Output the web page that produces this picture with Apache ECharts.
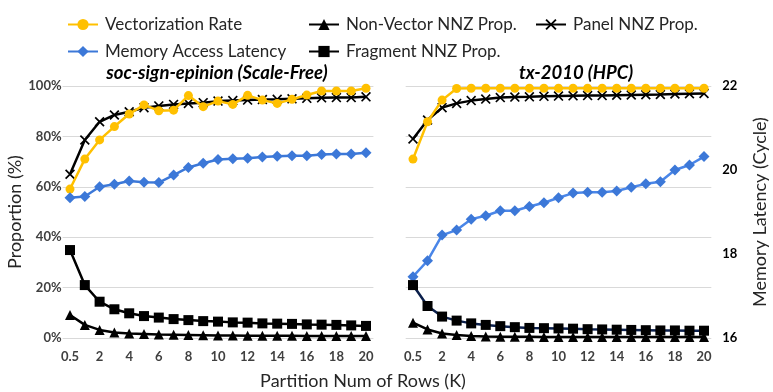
<!DOCTYPE html>
<html>
<head>
<meta charset="utf-8">
<script src="https://cdn.jsdelivr.net/npm/echarts@6/dist/echarts.min.js"></script>
<style>
html,body{margin:0;padding:0;background:#fff;}
#c{width:773px;height:392px;}
</style>
</head>
<body>
<div id="c"></div>
<script>
// ---- data ----
const categories = ['0.5','1','2','3','4','5','6','7','8','9','10','11','12','13','14','15','16','17','18','19','20'];
const panelTitles = ['soc-sign-epinion (Scale-Free)', 'tx-2010 (HPC)'];
const seriesNames = ['Vectorization Rate','Memory Access Latency','Non-Vector NNZ Prop.','Fragment NNZ Prop.','Panel NNZ Prop.'];
const proportionTicks = [0, 20, 40, 60, 80, 100];
const latencyTicks = [16, 18, 20, 22];

// left panel: soc-sign-epinion
const vecL     = [59.1,71.0,78.6,83.9,88.9,92.5,90.2,90.4,96.2,91.8,94.0,92.7,96.3,94.4,93.1,94.7,96.4,98.0,98.0,98.0,99.1];
const panelL   = [65.0,78.6,85.8,88.5,89.8,91.4,92.1,92.7,93.1,93.4,94.0,94.2,94.4,94.6,94.7,94.9,95.1,95.3,95.4,95.4,95.7];
const latL     = [19.34,19.37,19.60,19.66,19.74,19.71,19.70,19.88,20.06,20.16,20.25,20.27,20.28,20.31,20.33,20.34,20.34,20.37,20.38,20.38,20.41];
const fragL    = [34.9,21.0,14.4,11.4,9.8,8.7,8.1,7.5,7.1,6.7,6.5,6.2,6.1,5.8,5.7,5.6,5.4,5.3,5.2,5.0,4.8];
const nonvecL  = [9.1,5.2,3.2,2.2,1.8,1.6,1.4,1.3,1.2,1.1,1.0,1.0,0.9,0.9,0.9,0.9,0.8,0.8,0.8,0.8,0.8];

// right panel: tx-2010
const vecR     = [71.0,85.8,94.4,99.0,99.1,99.1,99.1,99.1,99.1,99.1,99.1,99.1,99.1,99.1,99.1,99.1,99.1,99.1,99.1,99.1,99.1];
const panelR   = [79.0,86.5,91.4,93.1,94.2,94.8,95.4,95.6,95.7,95.9,96.0,96.1,96.2,96.2,96.3,96.4,96.5,96.6,96.8,96.9,97.0];
const latR     = [17.46,17.84,18.45,18.57,18.83,18.91,19.03,19.03,19.13,19.22,19.34,19.45,19.47,19.47,19.50,19.59,19.67,19.72,20.00,20.12,20.32];
const fragR    = [21.0,12.7,8.5,6.9,5.8,5.2,4.7,4.3,4.0,3.9,3.8,3.7,3.5,3.4,3.3,3.2,3.1,3.0,3.0,2.9,2.9];
const nonvecR  = [6.1,3.4,1.8,1.2,0.8,0.6,0.5,0.5,0.5,0.4,0.4,0.4,0.4,0.4,0.4,0.4,0.4,0.4,0.4,0.4,0.4];

// ---- styles ----
const FONT = 'Lato';
const YEL = '#FFC000', BLUE = '#3C78D8', BLUE_R = '#4A86E8', BLK = '#000000', NAVY = '#0B1F4B';
const CROSS = 'path://M0,1.2L1.2,0L5,3.8L8.8,0L10,1.2L6.2,5L10,8.8L8.8,10L5,6.2L1.2,10L0,8.8L3.8,5Z';
const tickColor = '#404040';
const textColor = '#262626';

const chart = echarts.init(document.getElementById('c'), null, {renderer: 'canvas'});

function xAxis(gridIndex) {
  return {
    type: 'category', gridIndex, data: categories, boundaryGap: true,
    axisLine: {show: false}, axisTick: {show: false},
    axisLabel: {interval: (i) => i % 2 === 0, margin: 12, color: tickColor, fontWeight: 'bold', fontSize: 13, fontFamily: FONT},
    splitLine: {show: false}
  };
}
function line(name, data, xi, yi, color, symbol, size, lineColor, z) {
  return {
    name, type: 'line', data, xAxisIndex: xi, yAxisIndex: yi,
    symbol, symbolSize: size, showSymbol: true, showAllSymbol: true, animation: false, z: z || 2,
    lineStyle: {color: lineColor || color, width: 2.5},
    itemStyle: {color, borderWidth: 0}
  };
}
function legend(names, left) {
  return {data: names, left, top: 11, orient: 'vertical', itemGap: 10,
    itemWidth: 30, itemHeight: 14, textStyle: {fontSize: 17, color: textColor, fontFamily: FONT, padding: [0,0,0,2]}};
}

const option = {
  backgroundColor: '#fff',
  animation: false,
  textStyle: {fontFamily: FONT},
  title: [
    {text: panelTitles[0], left: 212, top: 59, textAlign: 'center',
     textStyle: {fontSize: 18.5, fontWeight: 'bold', fontStyle: 'italic', color: '#000', fontFamily: FONT}},
    {text: panelTitles[1], left: 571, top: 59, textAlign: 'center',
     textStyle: {fontSize: 18.5, fontWeight: 'bold', fontStyle: 'italic', color: '#000', fontFamily: FONT}},
    {text: 'Partition Num of Rows (K)', left: 358, top: 367, textAlign: 'center',
     textStyle: {fontSize: 18, fontWeight: 'normal', color: textColor, fontFamily: FONT}}
  ],
  legend: [
    legend([seriesNames[0], seriesNames[1]], 62),
    legend([seriesNames[2], seriesNames[3]], 303),
    legend([seriesNames[4]], 530)
  ],
  grid: [
    {left: 62.6, top: 86, width: 310.8, height: 252},
    {left: 405.7, top: 86, width: 305.6, height: 252}
  ],
  xAxis: [xAxis(0), xAxis(1)],
  yAxis: [
    {type: 'value', gridIndex: 0, min: proportionTicks[0], max: proportionTicks[proportionTicks.length-1], interval: 20,
     axisLine: {show: false}, axisTick: {show: false},
     axisLabel: {formatter: '{value}%', margin: 1, color: tickColor, fontWeight: 'bold', fontSize: 13, fontFamily: FONT},
     splitLine: {lineStyle: {color: '#d9d9d9', width: 1}},
     name: 'Proportion (%)', nameLocation: 'middle', nameGap: 38, nameRotate: 90,
     nameTextStyle: {fontSize: 18, color: textColor, fontFamily: FONT}},
    {type: 'value', gridIndex: 0, min: latencyTicks[0], max: latencyTicks[latencyTicks.length-1], interval: 2, show: false,
     splitLine: {show: false}},
    {type: 'value', gridIndex: 1, min: proportionTicks[0], max: proportionTicks[proportionTicks.length-1], interval: 20,
     axisLine: {show: false}, axisTick: {show: false}, axisLabel: {show: false},
     splitLine: {lineStyle: {color: '#d9d9d9', width: 1}}},
    {type: 'value', gridIndex: 1, position: 'right', min: latencyTicks[0], max: latencyTicks[latencyTicks.length-1], interval: 2,
     axisLine: {show: false}, axisTick: {show: false},
     axisLabel: {margin: 11, color: '#000', fontWeight: 'bold', fontSize: 13, fontFamily: FONT},
     splitLine: {show: false},
     name: 'Memory Latency (Cycle)', nameLocation: 'middle', nameGap: 40, nameRotate: 90,
     nameTextStyle: {fontSize: 18, color: textColor, fontFamily: FONT}}
  ],
  series: [
    // left panel
    line(seriesNames[4], panelL, 0, 0, BLK, CROSS, 10, BLK, 2),
    line(seriesNames[0], vecL, 0, 0, YEL, 'circle', 9, YEL, 3),
    line(seriesNames[1], latL, 0, 1, BLUE, 'diamond', 11, BLUE, 3),
    line(seriesNames[3], fragL, 0, 0, BLK, 'rect', 10, BLK, 3),
    line(seriesNames[2], nonvecL, 0, 0, BLK, 'triangle', 10, BLK, 3),
    // right panel
    line(seriesNames[4], panelR, 1, 2, BLK, CROSS, 10, BLK, 2),
    line(seriesNames[0], vecR, 1, 2, YEL, 'circle', 9, YEL, 3),
    line(seriesNames[1], latR, 1, 3, BLUE, 'diamond', 11, BLUE_R, 3),
    line(seriesNames[3], fragR, 1, 2, BLK, 'rect', 10, NAVY, 4),
    line(seriesNames[2], nonvecR, 1, 2, BLK, 'triangle', 10, BLK, 3)
  ]
};
chart.setOption(option);
</script>
</body>
</html>
